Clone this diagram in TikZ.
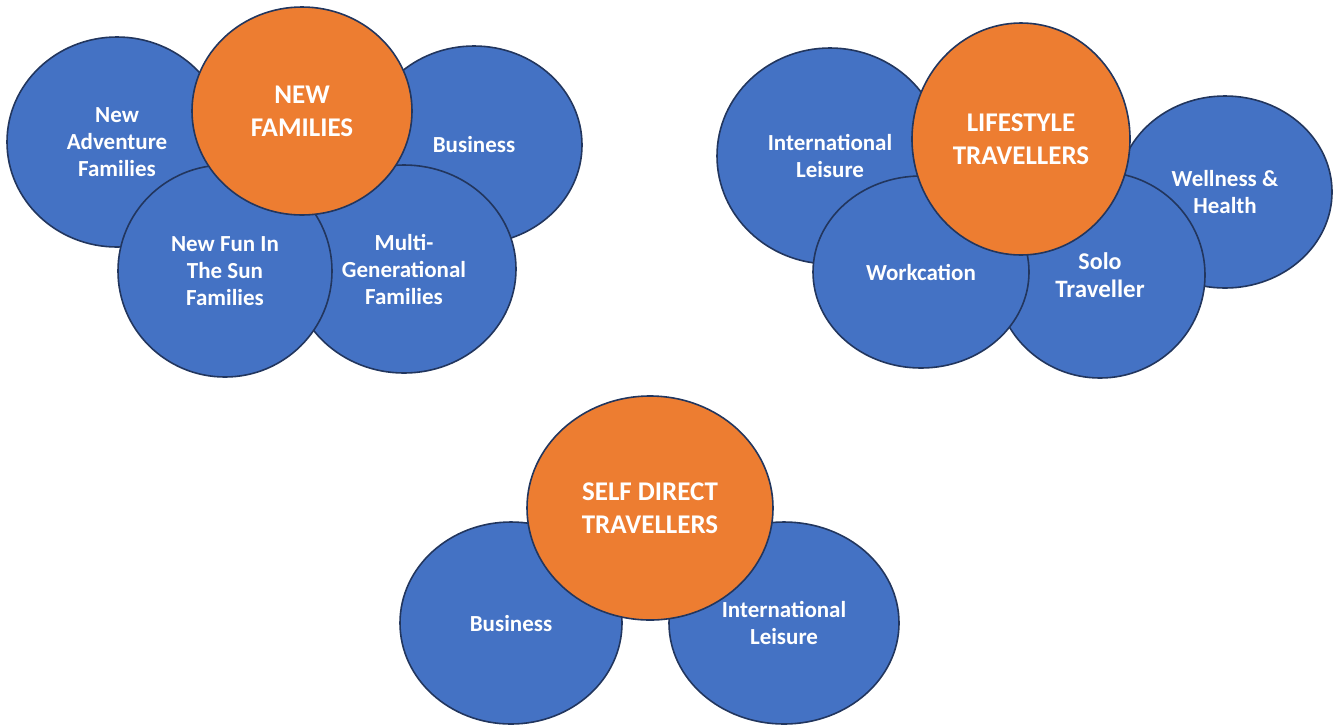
\documentclass[tikz,border=0pt]{standalone}
\usepackage{fontspec}
\setmainfont{Carlito}
\usetikzlibrary{shapes.geometric}
\definecolor{blueF}{HTML}{4472C4}
\definecolor{orangeF}{HTML}{ED7D31}
\definecolor{rim}{HTML}{22365E}
\tikzset{
  blob/.style={ellipse, draw=rim, line width=1.6pt, fill=blueF, text=white,
    inner sep=0pt, align=center, font=\bfseries\fontsize{23}{27}\selectfont},
  hub/.style={blob, fill=orangeF, font=\bfseries\fontsize{27}{33}\selectfont},
  sz/.style 2 args={minimum width=#1pt, minimum height=#2pt}
}
\begin{document}
\begin{tikzpicture}[x=1pt,y=-1pt]
\useasboundingbox (0,0) rectangle (1340,724);

% ---- New Families cluster ----
\node[blob, sz={220}{210}] (nadv) at (117,142) {New\\Adventure\\Families};
\node[blob, sz={216}{198}] (nbus) at (474,145) {Business};
\node[blob, sz={224}{208}] (nmul) at (404,269) {Multi-\\Generational\\Families};
\node[blob, sz={214}{212}] (nfun) at (225,271) {New Fun In\\The Sun\\Families};
\node[hub,  sz={220}{208}] (nfam) at (302,111) {NEW\\FAMILIES};

% ---- Lifestyle Travellers cluster ----
\node[blob, sz={226}{216}] (lint) at (830,156) {International\\Leisure};
\node[blob, sz={214}{192}] (lwel) at (1225,192) {Wellness \&\\Health};
\node[blob, sz={210}{206}, font=\bfseries\fontsize{24}{28}\selectfont] (lsol) at (1100,275)
  {Solo\\{\fontsize{25}{28}\selectfont Traveller}};
\node[blob, sz={216}{192}] (lwrk) at (921,272) {Workcation};
\node[hub,  sz={218}{232}] (llif) at (1021,139) {LIFESTYLE\\TRAVELLERS};

% ---- Self Direct Travellers cluster ----
\node[blob, sz={222}{202}] (sbus) at (511,623) {Business};
\node[blob, sz={230}{202}] (sint) at (784,623) {International\\Leisure};
\node[hub,  sz={246}{224}] (sdir) at (650,508) {SELF DIRECT\\TRAVELLERS};
\end{tikzpicture}
\end{document}
